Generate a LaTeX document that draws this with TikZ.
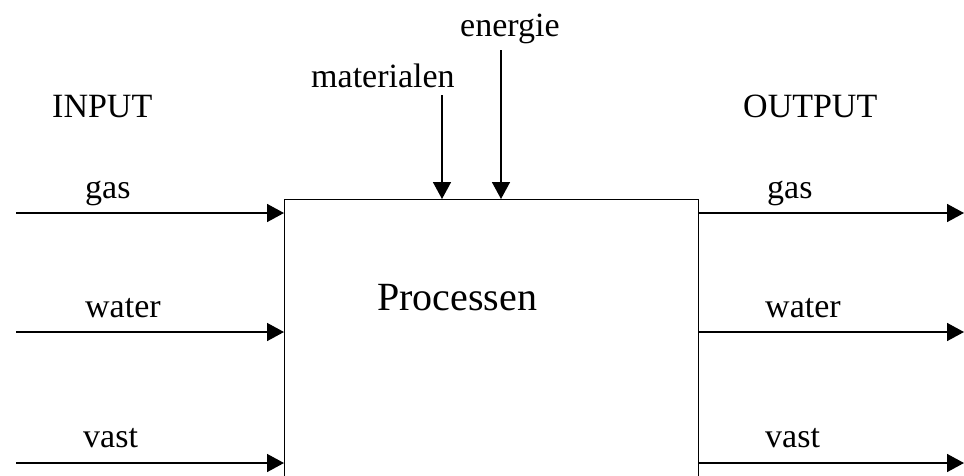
\documentclass[tikz,border=0pt]{standalone}
\usepackage{fontspec}
\setmainfont{Liberation Serif}
\usetikzlibrary{arrows.meta}
\tikzset{
  lbl/.style={anchor=base west, inner sep=0pt, font=\fontsize{34}{40}\selectfont},
  flow/.style={line width=1.6pt, -{Triangle[length=17pt,width=18pt]}},
  procbox/.style={draw, line width=1.4pt, anchor=north west, inner sep=0pt, minimum width=414pt, minimum height=320pt}
}
\begin{document}
\begin{tikzpicture}[x=1pt,y=-1pt]
\useasboundingbox (0,0) rectangle (964,475);
\clip (0,0) rectangle (964,475);
\node[procbox] (proc) at (284,199) {};
\node[anchor=base west, inner sep=0pt, font=\fontsize{40}{46}\selectfont] (ptext) at (377,310) {Processen};
% headings
\node[lbl] (inp) at (52,117) {INPUT};
\node[lbl] (outp) at (743,117) {OUTPUT};
\node[lbl] (mat) at (311,87) {materialen};
\node[lbl] (ene) at (460,36) {energie};
% labels
\node[lbl] (lgas) at (85,198) {gas};
\node[lbl] (lwat) at (85,317) {water};
\node[lbl] (lvas) at (83,447) {vast};
\node[lbl] (rgas) at (767,198) {gas};
\node[lbl] (rwat) at (765,317) {water};
\node[lbl] (rvas) at (765,447) {vast};
% coordinates
\coordinate (i1) at (16,213);
\coordinate (i2) at (16,332);
\coordinate (i3) at (16,463);
\coordinate (o1) at (964,213);
\coordinate (o2) at (964,332);
\coordinate (o3) at (964,463);
\coordinate (m0) at (442,95);
\coordinate (e0) at (501,50);
% arrows
\draw[flow] (i1) -- (i1 -| proc.west);
\draw[flow] (i2) -- (i2 -| proc.west);
\draw[flow] (i3) -- (i3 -| proc.west);
\draw[flow] (o1 -| proc.east) -- (o1);
\draw[flow] (o2 -| proc.east) -- (o2);
\draw[flow] (o3 -| proc.east) -- (o3);
\draw[flow] (m0) -- (m0 |- proc.north);
\draw[flow] (e0) -- (e0 |- proc.north);
\end{tikzpicture}
\end{document}
